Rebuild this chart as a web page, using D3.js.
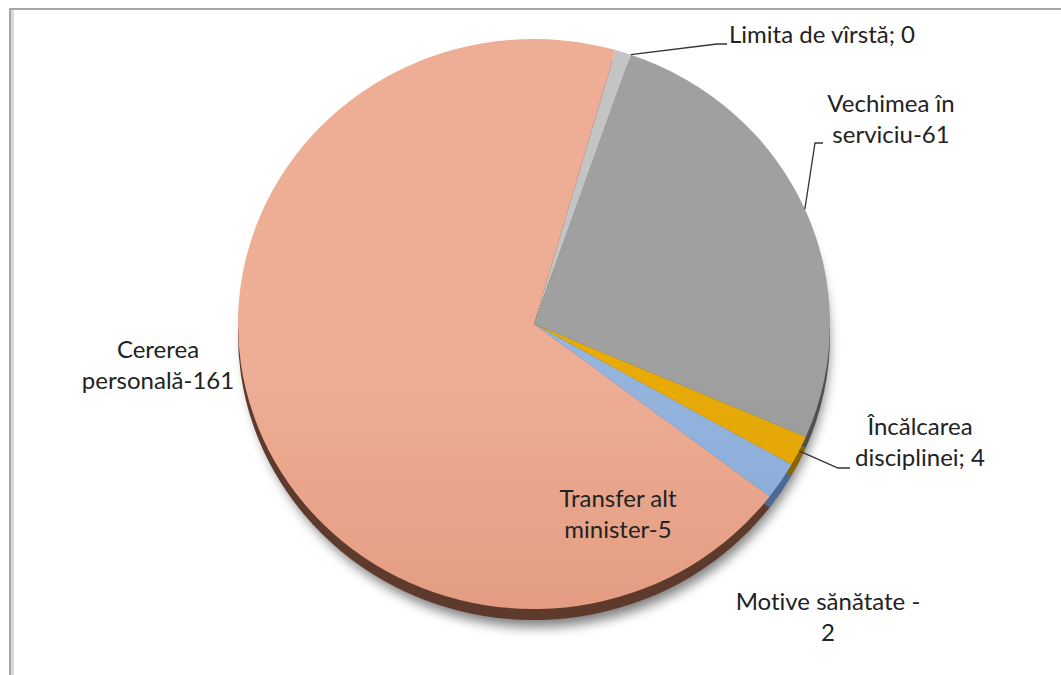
<!DOCTYPE html>
<html>
<head>
<meta charset="utf-8">
<script src="https://cdn.jsdelivr.net/npm/d3@7"></script>
<style>
  body { margin: 0; background: #fff; }
  svg { display: block; }
  text { font-variant-ligatures: none; }
</style>
</head>
<body>
<script>
// date
var categories = ["Motive sănătate", "Limita de vîrstă", "Vechimea în serviciu",
                  "Încălcarea disciplinei", "Transfer alt minister", "Cererea personală"];
var values = [2, 0, 61, 4, 5, 161];
var labelLines = [
  ["Motive sănătate -", "2"],
  ["Limita de vîrstă; 0"],
  ["Vechimea în", "serviciu-61"],
  ["Încălcarea", "disciplinei; 4"],
  ["Transfer alt", "minister-5"],
  ["Cererea", "personală-161"]
];
var topColors  = ["#c4c4c4", "#c4c4c4", "#a0a0a0", "#e8ab08", "#95b5de", "#eeae96"];
var botColors  = ["#b5b5b5", "#b5b5b5", "#868686", "#d29a00", "#7399cc", "#d7886a"];
var sideColors = ["#7a7a7a", "#7a7a7a", "#505050", "#8a6400", "#4a6a94", "#5e3a2c"];

// asezarea etichetelor (x, y = linia de baza a primului rand)
var labelLayout = [
  { x: 828, y: 610, anchor: "middle", leader: null },
  { x: 729, y: 43, anchor: "start", leader: [[717, 44], [727, 44]] },
  { x: 891, y: 112, anchor: "middle", leader: [[815, 143], [823, 143]] },
  { x: 920, y: 435, anchor: "middle", leader: [[838, 468], [850, 468]] },
  { x: 618, y: 507, anchor: "middle", leader: null },
  { x: 158, y: 358, anchor: "middle", leader: null }
];

var W = 1061, H = 675;
var cx = 534, cy = 324, rx = 296, ry = 285, depth = 11;
var lineH = 31;

var svg = d3.select("body").append("svg")
  .attr("width", W)
  .attr("height", H);

var defs = svg.append("defs");
var blur = defs.append("filter").attr("id", "shadow")
  .attr("x", "-10%").attr("y", "-10%").attr("width", "120%").attr("height", "130%");
blur.append("feGaussianBlur").attr("stdDeviation", 6);

// gradient pentru fiecare felie
values.forEach(function (d, i) {
  var g = defs.append("linearGradient")
    .attr("id", "grad" + i)
    .attr("gradientUnits", "userSpaceOnUse")
    .attr("x1", 0).attr("y1", cy - ry)
    .attr("x2", 0).attr("y2", cy + ry);
  g.append("stop").attr("offset", "0%").attr("stop-color", topColors[i]);
  g.append("stop").attr("offset", "100%").attr("stop-color", botColors[i]);
});

// chenar
svg.append("line").attr("x1", 9).attr("y1", 9).attr("x2", W).attr("y2", 9)
  .attr("stroke", "#a6a6a6").attr("stroke-width", 2);
svg.append("line").attr("x1", 12.5).attr("y1", 10).attr("x2", 12.5).attr("y2", H)
  .attr("stroke", "#d9d9d9").attr("stroke-width", 3);
svg.append("line").attr("x1", 10).attr("y1", 8).attr("x2", 10).attr("y2", H)
  .attr("stroke", "#a6a6a6").attr("stroke-width", 2);

var pie = d3.pie()
  .sort(null)
  .value(function (d) { return d; })
  .startAngle(16 * Math.PI / 180)
  .endAngle(16 * Math.PI / 180 + 2 * Math.PI);

var arcs = pie(values);
var arc = d3.arc().innerRadius(0).outerRadius(rx);
var sy = ry / rx;

// umbra
svg.append("ellipse")
  .attr("cx", cx + 3).attr("cy", cy + depth + 9)
  .attr("rx", rx - 4).attr("ry", ry - 2)
  .attr("fill", "#000").attr("opacity", 0.5)
  .attr("filter", "url(#shadow)");

// partea laterala (3D)
svg.append("g")
  .attr("transform", "translate(" + cx + "," + (cy + depth) + ") scale(1," + sy + ")")
  .selectAll("path")
  .data(arcs)
  .enter()
  .append("path")
  .attr("d", arc)
  .attr("fill", function (d, i) { return sideColors[i]; });

// fata de sus
svg.append("g")
  .attr("transform", "translate(" + cx + "," + cy + ") scale(1," + sy + ")")
  .selectAll("path")
  .data(arcs)
  .enter()
  .append("path")
  .attr("d", arc)
  .attr("fill", function (d, i) { return "url(#grad" + i + ")"; });

// linii de legatura
function rimPoint(a) {
  return [cx + rx * Math.sin(a), cy - ry * Math.cos(a)];
}
arcs.forEach(function (d, i) {
  var L = labelLayout[i];
  if (!L.leader) return;
  var p0 = rimPoint((d.startAngle + d.endAngle) / 2);
  svg.append("path")
    .attr("d", d3.line()([p0].concat(L.leader)))
    .attr("fill", "none")
    .attr("stroke", "#333")
    .attr("stroke-width", 1.3);
});

// etichete
var labels = svg.selectAll("text.lbl")
  .data(labelLines)
  .enter()
  .append("text")
  .attr("class", "lbl")
  .attr("x", function (d, i) { return labelLayout[i].x; })
  .attr("y", function (d, i) { return labelLayout[i].y; })
  .attr("text-anchor", function (d, i) { return labelLayout[i].anchor; })
  .attr("font-family", "Lato, 'Open Sans', sans-serif")
  .attr("font-size", "24px")
  .attr("fill", "#222");

labels.each(function (lines, i) {
  d3.select(this).selectAll("tspan")
    .data(lines)
    .enter()
    .append("tspan")
    .attr("x", labelLayout[i].x)
    .attr("dy", function (t, j) { return j === 0 ? 0 : lineH; })
    .text(function (t) { return t; });
});
</script>
</body>
</html>
